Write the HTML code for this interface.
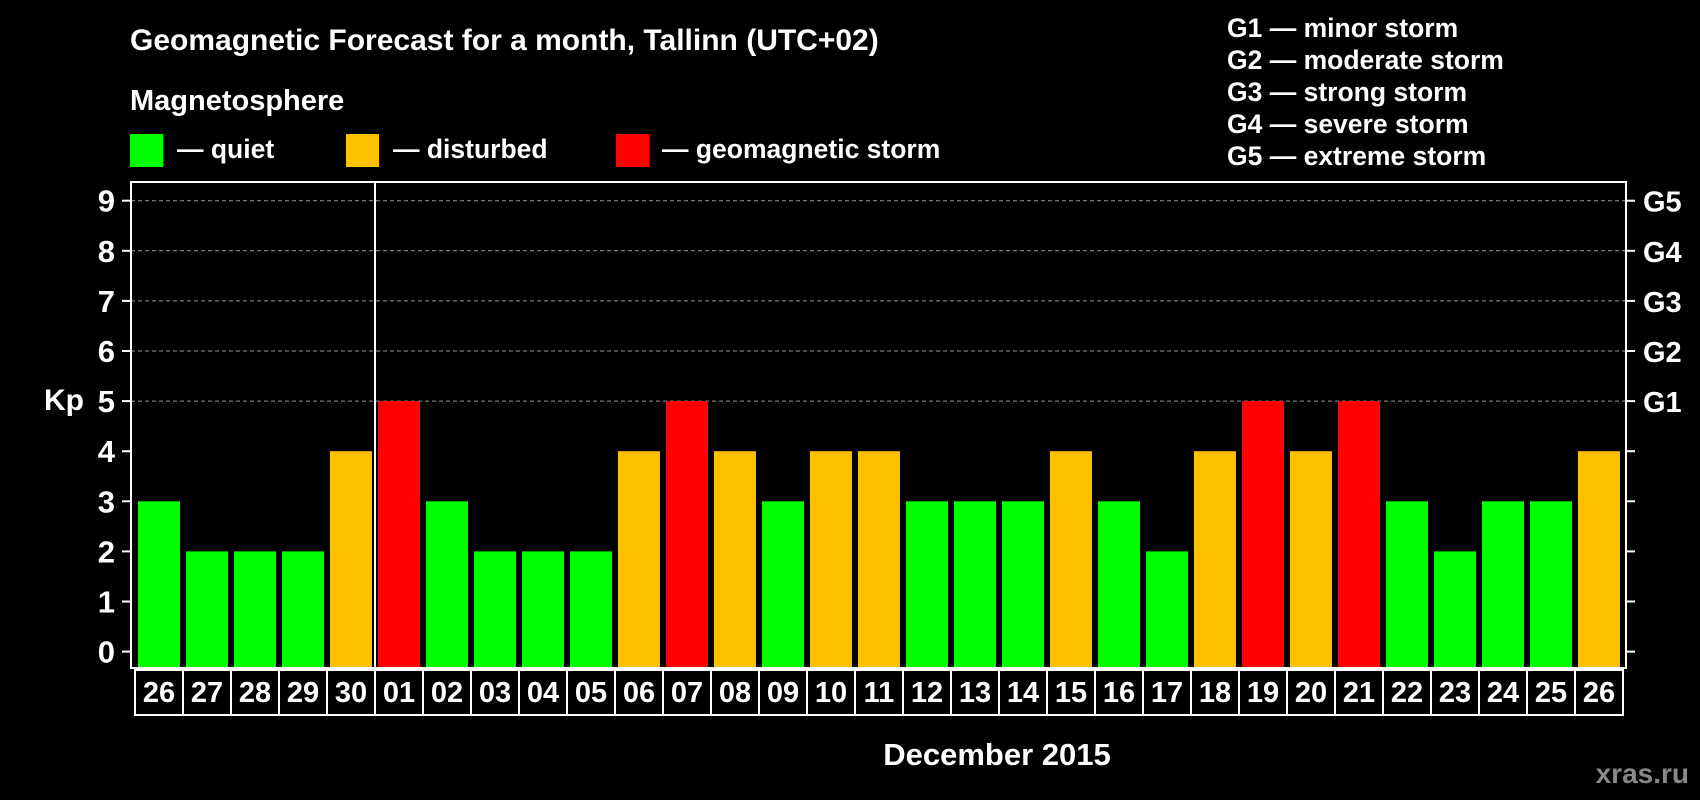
<!DOCTYPE html>
<html><head><meta charset="utf-8"><style>
html,body{margin:0;padding:0;background:#000;}
svg{display:block;font-family:"Liberation Sans",Arial,sans-serif;font-weight:bold;}
</style></head><body>
<svg id="chart" width="1700" height="800" viewBox="0 0 1700 800">
<rect width="1700" height="800" fill="#000"/>
<text x="130" y="50" fill="#fff" font-size="30">Geomagnetic Forecast for a month, Tallinn (UTC+02)</text>
<text x="130" y="110" fill="#fff" font-size="29">Magnetosphere</text>
<g><rect x="130" y="134" width="33" height="33" fill="#00ff00"/><text x="177" y="158" fill="#fff" font-size="26.5">— quiet</text></g>
<g><rect x="346" y="134" width="33" height="33" fill="#ffc000"/><text x="393" y="158" fill="#fff" font-size="26.5">— disturbed</text></g>
<g><rect x="616" y="134" width="33" height="33" fill="#ff0000"/><text x="662" y="158" fill="#fff" font-size="26.5">— geomagnetic storm</text></g>
<g fill="#fff" font-size="26.5">
<text x="1227" y="37">G1 — minor storm</text>
<text x="1227" y="69">G2 — moderate storm</text>
<text x="1227" y="101">G3 — strong storm</text>
<text x="1227" y="133">G4 — severe storm</text>
<text x="1227" y="165">G5 — extreme storm</text>
</g>
<text x="64" y="410" fill="#fff" font-size="30" text-anchor="middle">Kp</text>
<text x="997" y="765" fill="#fff" font-size="31" text-anchor="middle">December 2015</text>
<text x="1689" y="783" fill="#888" font-size="28" text-anchor="end">xras.ru</text>
<g id="plot"></g>
</svg>
<script>
const days = ["26","27","28","29","30","01","02","03","04","05","06","07","08","09","10","11","12","13","14","15","16","17","18","19","20","21","22","23","24","25","26"];
const kpValues = [3,2,2,2,4,5,3,2,2,2,4,5,4,3,4,4,3,3,3,4,3,2,4,5,4,5,3,2,3,3,4];
const yTicks = [0,1,2,3,4,5,6,7,8,9];
const gLabels = ["G1","G2","G3","G4","G5"];
const gLevels = [5,6,7,8,9];
const monthStartIndex = 5;

const NS = "http://www.w3.org/2000/svg";
const plot = document.getElementById("plot");
const L = 131, R = 1626, T = 182, B = 668;
const step = 48, barW = 42, x0 = 138;
const y = v => 651.6 - v * 50.1;
const x = i => x0 + i * step;
function mk(tag, attrs, parent) {
  const e = document.createElementNS(NS, tag);
  for (const k in attrs) e.setAttribute(k, attrs[k]);
  (parent || plot).appendChild(e);
  return e;
}
[5,6,7,8,9].forEach(v => {
  const g = mk("line", {x1: L, x2: R, y1: y(v), y2: y(v), stroke: "#999", "stroke-width": 1, "stroke-dasharray": "4,3"});
  
  
});
kpValues.forEach((v, i) => {
  const color = v >= 5 ? "#ff0000" : (v >= 4 ? "#ffc000" : "#00ff00");
  const r = mk("rect", {x: x(i), y: y(v), width: barW, height: B - y(v), fill: color});
  
  
});
const fr = mk("rect", {x: L, y: T, width: R - L, height: B - T, fill: "none", stroke: "#fff", "stroke-width": 2});


const ms = mk("line", {x1: x(monthStartIndex) - 3, x2: x(monthStartIndex) - 3, y1: T, y2: B, stroke: "#fff", "stroke-width": 2});


yTicks.forEach(v => {
  mk("line", {x1: 122, x2: L, y1: y(v), y2: y(v), stroke: "#fff", "stroke-width": 2});
  mk("line", {x1: R, x2: R + 9, y1: y(v), y2: y(v), stroke: "#fff", "stroke-width": 2});
  const t = mk("text", {x: 115, y: y(v) + 11, fill: "#fff", "font-size": 31, "text-anchor": "end"});
  t.textContent = v;
  
  
});
gLabels.forEach((g, i) => {
  const t = mk("text", {x: 1643, y: y(gLevels[i]) + 11, fill: "#fff", "font-size": 29});
  t.textContent = g;
  
  
});
days.forEach((d, i) => {
  const cx = 135 + i * step;
  const c = mk("rect", {x: cx, y: 670, width: step, height: 45, fill: "none", stroke: "#fff", "stroke-width": 2});
  
  
  const t = mk("text", {x: cx + step / 2, y: 702, fill: "#fff", "font-size": 29, "text-anchor": "middle"});
  t.textContent = d;
  
  
});
</script>
</body></html>
